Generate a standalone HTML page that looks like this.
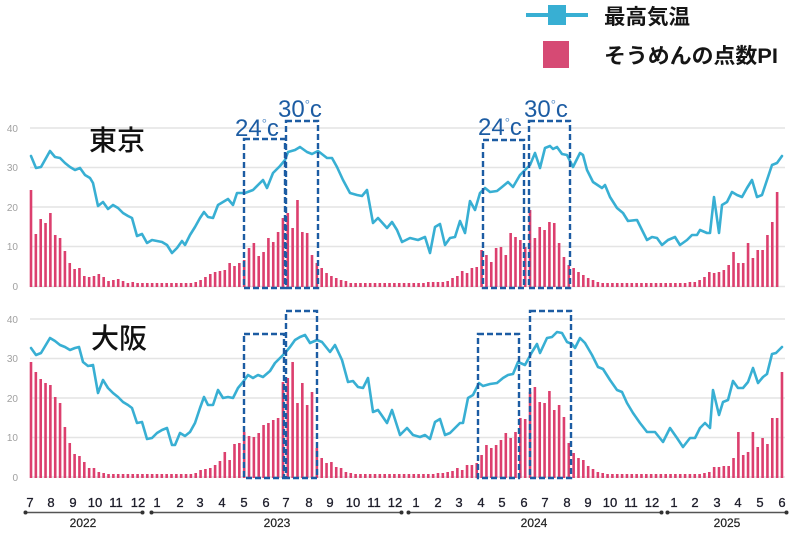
<!DOCTYPE html>
<html><head><meta charset="utf-8"><style>
html,body{margin:0;padding:0;background:#fff;}
svg{display:block;}
text{font-family:"Liberation Sans","Noto Sans CJK JP",sans-serif;}
</style></head><body>
<svg width="799" height="540" viewBox="0 0 799 540" xmlns="http://www.w3.org/2000/svg">
<!-- legend -->
<line x1="526" y1="15" x2="588" y2="15" stroke="#38afd3" stroke-width="4"/>
<rect x="548" y="5" width="18" height="20" fill="#38afd3"/>
<text x="604" y="24" font-size="21" font-weight="bold" fill="#151515" textLength="86" lengthAdjust="spacingAndGlyphs">最高気温</text>
<rect x="543" y="41" width="26" height="27" fill="#d64a74"/>
<text x="604" y="63" font-size="21" font-weight="bold" fill="#151515" textLength="174" lengthAdjust="spacingAndGlyphs">そうめんの点数PI</text>

<!-- gridlines -->
<g stroke="#e4e4e4" stroke-width="1.5">
<line x1="30" y1="128" x2="785" y2="128"/>
<line x1="30" y1="167.5" x2="785" y2="167.5"/>
<line x1="30" y1="207" x2="785" y2="207"/>
<line x1="30" y1="246.5" x2="785" y2="246.5"/>
<line x1="30" y1="286.5" x2="785" y2="286.5"/>
<line x1="30" y1="319" x2="785" y2="319"/>
<line x1="30" y1="358.5" x2="785" y2="358.5"/>
<line x1="30" y1="398" x2="785" y2="398"/>
<line x1="30" y1="437.5" x2="785" y2="437.5"/>
<line x1="30" y1="477" x2="785" y2="477"/>
</g>
<g font-size="10" fill="#a0a0a0" text-anchor="end">
<text x="18" y="132">40</text>
<text x="18" y="171">30</text>
<text x="18" y="211">20</text>
<text x="18" y="250">10</text>
<text x="18" y="290">0</text>
<text x="18" y="323">40</text>
<text x="18" y="362">30</text>
<text x="18" y="402">20</text>
<text x="18" y="441">10</text>
<text x="18" y="481">0</text>
</g>

<!-- top bars -->
<path fill="none" stroke="#dc3f6e" stroke-width="2.6" d="M31 287v-97v97m4.845 0v-53v53m4.845 0v-68v68m4.845 0v-64v64m4.845 0v-74v74m4.845 0v-52v52m4.845 0v-49v49m4.845 0v-36v36m4.845 0v-24v24m4.845 0v-18v18m4.845 0v-19v19m4.845 0v-11v11m4.845 0v-10v10m4.845 0v-11v11m4.845 0v-13v13m4.845 0v-10v10m4.845 0v-6v6m4.845 0v-7v7m4.845 0v-8v8m4.845 0v-6v6m4.845 0v-4v4m4.845 0v-5v5m4.845 0v-4v4m4.845 0v-4v4m4.845 0v-4v4m4.845 0v-4v4m4.845 0v-4v4m4.845 0v-4v4m4.845 0v-4v4m4.845 0v-4v4m4.845 0v-4v4m4.845 0v-4v4m4.845 0v-4v4m4.845 0v-4v4m4.845 0v-5v5m4.845 0v-7v7m4.845 0v-10v10m4.845 0v-13v13m4.845 0v-15v15m4.845 0v-16v16m4.845 0v-17v17m4.845 0v-24v24m4.845 0v-21v21m4.845 0v-24v24m4.845 0v-27v27m4.845 0v-39v39m4.845 0v-44v44m4.845 0v-31v31m4.845 0v-35v35m4.845 0v-49v49m4.845 0v-45v45m4.845 0v-55v55m4.845 0v-69v69m4.845 0v-74v74m4.845 0v-59v59m4.845 0v-87v87m4.845 0v-55v55m4.845 0v-54v54m4.845 0v-32v32m4.845 0v-24v24m4.845 0v-19v19m4.845 0v-14v14m4.845 0v-11v11m4.845 0v-9v9m4.845 0v-7v7m4.845 0v-6v6m4.845 0v-4v4m4.845 0v-4v4m4.845 0v-4v4m4.845 0v-4v4m4.845 0v-4v4m4.845 0v-4v4m4.845 0v-4v4m4.845 0v-4v4m4.845 0v-4v4m4.845 0v-4v4m4.845 0v-4v4m4.845 0v-4v4m4.845 0v-4v4m4.845 0v-4v4m4.845 0v-4v4m4.845 0v-4v4m4.845 0v-5v5m4.845 0v-5v5m4.845 0v-5v5m4.845 0v-5v5m4.845 0v-6v6m4.845 0v-9v9m4.845 0v-11v11m4.845 0v-16v16m4.845 0v-14v14m4.845 0v-19v19m4.845 0v-20v20m4.845 0v-37v37m4.845 0v-32v32m4.845 0v-25v25m4.845 0v-39v39m4.845 0v-40v40m4.845 0v-32v32m4.845 0v-54v54m4.845 0v-50v50m4.845 0v-47v47m4.845 0v-40v40m4.845 0v-77v77m4.845 0v-49v49m4.845 0v-60v60m4.845 0v-57v57m4.845 0v-65v65m4.845 0v-64v64m4.845 0v-44v44m4.845 0v-30v30m4.845 0v-22v22m4.845 0v-19v19m4.845 0v-15v15m4.845 0v-12v12m4.845 0v-9v9m4.845 0v-7v7m4.845 0v-5v5m4.845 0v-4v4m4.845 0v-4v4m4.845 0v-4v4m4.845 0v-4v4m4.845 0v-4v4m4.845 0v-4v4m4.845 0v-4v4m4.845 0v-4v4m4.845 0v-4v4m4.845 0v-4v4m4.845 0v-4v4m4.845 0v-4v4m4.845 0v-4v4m4.845 0v-4v4m4.845 0v-4v4m4.845 0v-4v4m4.845 0v-4v4m4.845 0v-4v4m4.845 0v-5v5m4.845 0v-5v5m4.845 0v-7v7m4.845 0v-10v10m4.845 0v-15v15m4.845 0v-14v14m4.845 0v-15v15m4.845 0v-17v17m4.845 0v-22v22m4.845 0v-35v35m4.845 0v-24v24m4.845 0v-24v24m4.845 0v-44v44m4.845 0v-29v29m4.845 0v-37v37m4.845 0v-37v37m4.845 0v-52v52m4.845 0v-65v65m4.845 0v-95v95"/>

<!-- bottom bars -->
<path fill="none" stroke="#dc3f6e" stroke-width="2.6" d="M31 478v-116v116m4.845 0v-106v106m4.845 0v-99v99m4.845 0v-95v95m4.845 0v-93v93m4.845 0v-81v81m4.845 0v-75v75m4.845 0v-51v51m4.845 0v-35v35m4.845 0v-24v24m4.845 0v-22v22m4.845 0v-16v16m4.845 0v-10v10m4.845 0v-10v10m4.845 0v-6v6m4.845 0v-5v5m4.845 0v-4v4m4.845 0v-4v4m4.845 0v-4v4m4.845 0v-4v4m4.845 0v-4v4m4.845 0v-4v4m4.845 0v-4v4m4.845 0v-4v4m4.845 0v-4v4m4.845 0v-4v4m4.845 0v-4v4m4.845 0v-4v4m4.845 0v-4v4m4.845 0v-4v4m4.845 0v-4v4m4.845 0v-4v4m4.845 0v-4v4m4.845 0v-4v4m4.845 0v-5v5m4.845 0v-8v8m4.845 0v-9v9m4.845 0v-10v10m4.845 0v-13v13m4.845 0v-17v17m4.845 0v-26v26m4.845 0v-18v18m4.845 0v-34v34m4.845 0v-35v35m4.845 0v-46v46m4.845 0v-42v42m4.845 0v-41v41m4.845 0v-45v45m4.845 0v-53v53m4.845 0v-55v55m4.845 0v-58v58m4.845 0v-60v60m4.845 0v-96v96m4.845 0v-100v100m4.845 0v-116v116m4.845 0v-75v75m4.845 0v-95v95m4.845 0v-73v73m4.845 0v-86v86m4.845 0v-30v30m4.845 0v-20v20m4.845 0v-15v15m4.845 0v-16v16m4.845 0v-11v11m4.845 0v-10v10m4.845 0v-6v6m4.845 0v-5v5m4.845 0v-4v4m4.845 0v-4v4m4.845 0v-4v4m4.845 0v-4v4m4.845 0v-4v4m4.845 0v-4v4m4.845 0v-4v4m4.845 0v-4v4m4.845 0v-4v4m4.845 0v-4v4m4.845 0v-4v4m4.845 0v-4v4m4.845 0v-4v4m4.845 0v-4v4m4.845 0v-4v4m4.845 0v-4v4m4.845 0v-4v4m4.845 0v-5v5m4.845 0v-5v5m4.845 0v-6v6m4.845 0v-7v7m4.845 0v-10v10m4.845 0v-8v8m4.845 0v-13v13m4.845 0v-13v13m4.845 0v-15v15m4.845 0v-23v23m4.845 0v-33v33m4.845 0v-30v30m4.845 0v-33v33m4.845 0v-38v38m4.845 0v-45v45m4.845 0v-40v40m4.845 0v-46v46m4.845 0v-60v60m4.845 0v-59v59m4.845 0v-86v86m4.845 0v-91v91m4.845 0v-76v76m4.845 0v-75v75m4.845 0v-87v87m4.845 0v-68v68m4.845 0v-73v73m4.845 0v-61v61m4.845 0v-35v35m4.845 0v-25v25m4.845 0v-20v20m4.845 0v-18v18m4.845 0v-12v12m4.845 0v-9v9m4.845 0v-6v6m4.845 0v-5v5m4.845 0v-4v4m4.845 0v-4v4m4.845 0v-4v4m4.845 0v-4v4m4.845 0v-4v4m4.845 0v-4v4m4.845 0v-4v4m4.845 0v-4v4m4.845 0v-4v4m4.845 0v-4v4m4.845 0v-4v4m4.845 0v-4v4m4.845 0v-4v4m4.845 0v-4v4m4.845 0v-4v4m4.845 0v-4v4m4.845 0v-4v4m4.845 0v-4v4m4.845 0v-4v4m4.845 0v-4v4m4.845 0v-5v5m4.845 0v-6v6m4.845 0v-11v11m4.845 0v-11v11m4.845 0v-12v12m4.845 0v-12v12m4.845 0v-20v20m4.845 0v-46v46m4.845 0v-23v23m4.845 0v-26v26m4.845 0v-46v46m4.845 0v-31v31m4.845 0v-40v40m4.845 0v-34v34m4.845 0v-60v60m4.845 0v-60v60m4.845 0v-106v106"/>

<!-- temperature lines -->
<polyline fill="none" stroke="#38afd3" stroke-width="2.6" stroke-linejoin="round" stroke-linecap="round" points="31,156 36,168 41,167 50,151 55,157 60,158 65,163 70,167 75,170 80,168 85,175 90,178 93,183 98,206 103,202 108,209 113,205 118,208 123,213 128,216 132,218 137,236 142,234 147,243 152,240 157,241 162,242 167,245 172,253 177,248 182,241 185,245 190,235 195,227 200,218 204,212 208,217 213,218 218,205 223,202 228,199 233,205 237,193 245,193 253,190 263,180 267,188 273,173 280,166 285,160 288,152 295,150 300,147 307,152 312,154 318,151 327,158 332,158 337,167 343,180 350,193 357,195 362,196 367,190 373,223 378,218 387,228 392,222 397,230 402,242 410,238 418,240 425,237 430,253 435,227 440,224 445,245 450,238 455,237 460,221 465,233 470,201 475,210 480,193 485,188 490,192 497,191 502,187 508,182 513,187 520,175 525,170 530,165 535,153 540,168 545,148 550,146 553,149 557,147 562,154 567,155 573,167 580,153 583,155 587,170 593,182 602,188 605,185 610,197 617,208 623,213 628,221 637,220 642,230 647,240 652,237 657,238 662,245 668,240 675,237 680,245 687,240 692,235 697,235 700,230 707,233 710,233 714,197 719,233 722,205 727,202 732,192 737,195 742,197 747,188 752,180 757,197 762,195 767,180 772,165 777,163 782,156"/>
<polyline fill="none" stroke="#38afd3" stroke-width="2.6" stroke-linejoin="round" stroke-linecap="round" points="31,348 36,355 41,353 50,338 55,341 60,345 65,347 70,350 75,348 79,347 83,362 88,366 93,365 98,393 103,380 108,388 113,393 118,397 123,402 128,405 132,408 137,423 142,422 147,439 152,438 157,433 162,430 167,428 172,445 175,445 180,433 185,436 190,432 195,423 200,408 204,397 208,405 213,405 218,390 223,398 228,397 233,398 238,388 243,382 248,375 253,378 258,375 263,377 270,371 275,363 280,358 285,353 290,347 295,340 300,337 305,335 310,343 317,340 322,342 330,352 335,345 342,360 348,382 353,381 358,387 363,388 368,378 373,412 378,410 387,423 392,410 400,435 407,428 413,435 420,437 425,435 430,439 435,422 440,419 445,435 450,433 455,428 460,423 463,423 468,398 473,395 479,383 483,386 490,384 497,383 503,378 508,375 513,374 518,362 525,365 532,352 537,344 540,353 547,338 552,337 557,332 562,333 567,342 572,344 575,348 580,338 585,343 592,355 598,367 603,369 610,380 617,390 622,392 627,403 633,413 640,423 647,432 655,432 663,442 670,428 677,438 683,447 690,438 695,438 700,428 705,423 710,428 713,390 719,415 723,402 728,400 733,381 738,388 743,388 748,382 753,368 758,383 763,377 767,374 772,354 776,353 782,347"/>

<!-- city labels -->
<text x="89" y="150" font-size="28" font-weight="500" fill="#111">東京</text>
<text x="91" y="348" font-size="28" font-weight="500" fill="#111">大阪</text>

<!-- dashed boxes -->
<g fill="none" stroke="#1c5ca3" stroke-width="2.4" stroke-dasharray="6,3">
<rect x="244" y="139" width="41" height="149"/>
<rect x="286" y="121" width="32" height="167"/>
<rect x="483" y="140" width="41" height="148"/>
<rect x="529" y="121" width="41" height="167"/>
<rect x="244" y="334" width="40" height="144"/>
<rect x="286" y="311" width="31" height="167"/>
<rect x="478" y="334" width="41" height="144"/>
<rect x="530" y="311" width="41" height="167"/>
</g>
<g fill="#1c5ca3" font-size="24">
<text x="235" y="136">24<tspan font-size="13" dy="-8" fill="#5a8fc8">°</tspan><tspan dy="8">c</tspan></text>
<text x="278" y="117">30<tspan font-size="13" dy="-8" fill="#5a8fc8">°</tspan><tspan dy="8">c</tspan></text>
<text x="478" y="135">24<tspan font-size="13" dy="-8" fill="#5a8fc8">°</tspan><tspan dy="8">c</tspan></text>
<text x="524" y="117">30<tspan font-size="13" dy="-8" fill="#5a8fc8">°</tspan><tspan dy="8">c</tspan></text>
</g>

<!-- x axis months -->
<g font-size="13" fill="#1d1d2a" stroke="#1d1d2a" stroke-width="0.3" text-anchor="middle">
<text x="30" y="507">7</text><text x="51" y="507">8</text><text x="73" y="507">9</text><text x="95" y="507">10</text><text x="116" y="507">11</text><text x="138" y="507">12</text>
<text x="157" y="507">1</text><text x="180" y="507">2</text><text x="200" y="507">3</text><text x="222" y="507">4</text><text x="244" y="507">5</text><text x="266" y="507">6</text><text x="286" y="507">7</text><text x="309" y="507">8</text><text x="330" y="507">9</text><text x="353" y="507">10</text><text x="374" y="507">11</text><text x="395" y="507">12</text>
<text x="416" y="507">1</text><text x="438" y="507">2</text><text x="459" y="507">3</text><text x="481" y="507">4</text><text x="502" y="507">5</text><text x="524" y="507">6</text><text x="545" y="507">7</text><text x="567" y="507">8</text><text x="588" y="507">9</text><text x="610" y="507">10</text><text x="631" y="507">11</text><text x="652" y="507">12</text>
<text x="674" y="507">1</text><text x="695" y="507">2</text><text x="717" y="507">3</text><text x="738" y="507">4</text><text x="760" y="507">5</text><text x="782" y="507">6</text>
</g>
<!-- year arrows -->
<g stroke="#555" stroke-width="1.5">
<line x1="25" y1="512.5" x2="143" y2="512.5"/>
<line x1="151" y1="512.5" x2="402" y2="512.5"/>
<line x1="408" y1="512.5" x2="662" y2="512.5"/>
<line x1="667" y1="512.5" x2="787" y2="512.5"/>
</g>
<g fill="#333">
<circle cx="25.5" cy="512.5" r="2"/><circle cx="142.5" cy="512.5" r="2"/>
<circle cx="151.5" cy="512.5" r="2"/><circle cx="401.5" cy="512.5" r="2"/>
<circle cx="408.5" cy="512.5" r="2"/><circle cx="661.5" cy="512.5" r="2"/>
<circle cx="667.5" cy="512.5" r="2"/><circle cx="786.5" cy="512.5" r="2"/>
</g>
<g font-size="12" fill="#222" stroke="#222" stroke-width="0.2" text-anchor="middle">
<text x="83" y="527">2022</text>
<text x="277" y="527">2023</text>
<text x="534" y="527">2024</text>
<text x="727" y="527">2025</text>
</g>
</svg>
</body></html>
